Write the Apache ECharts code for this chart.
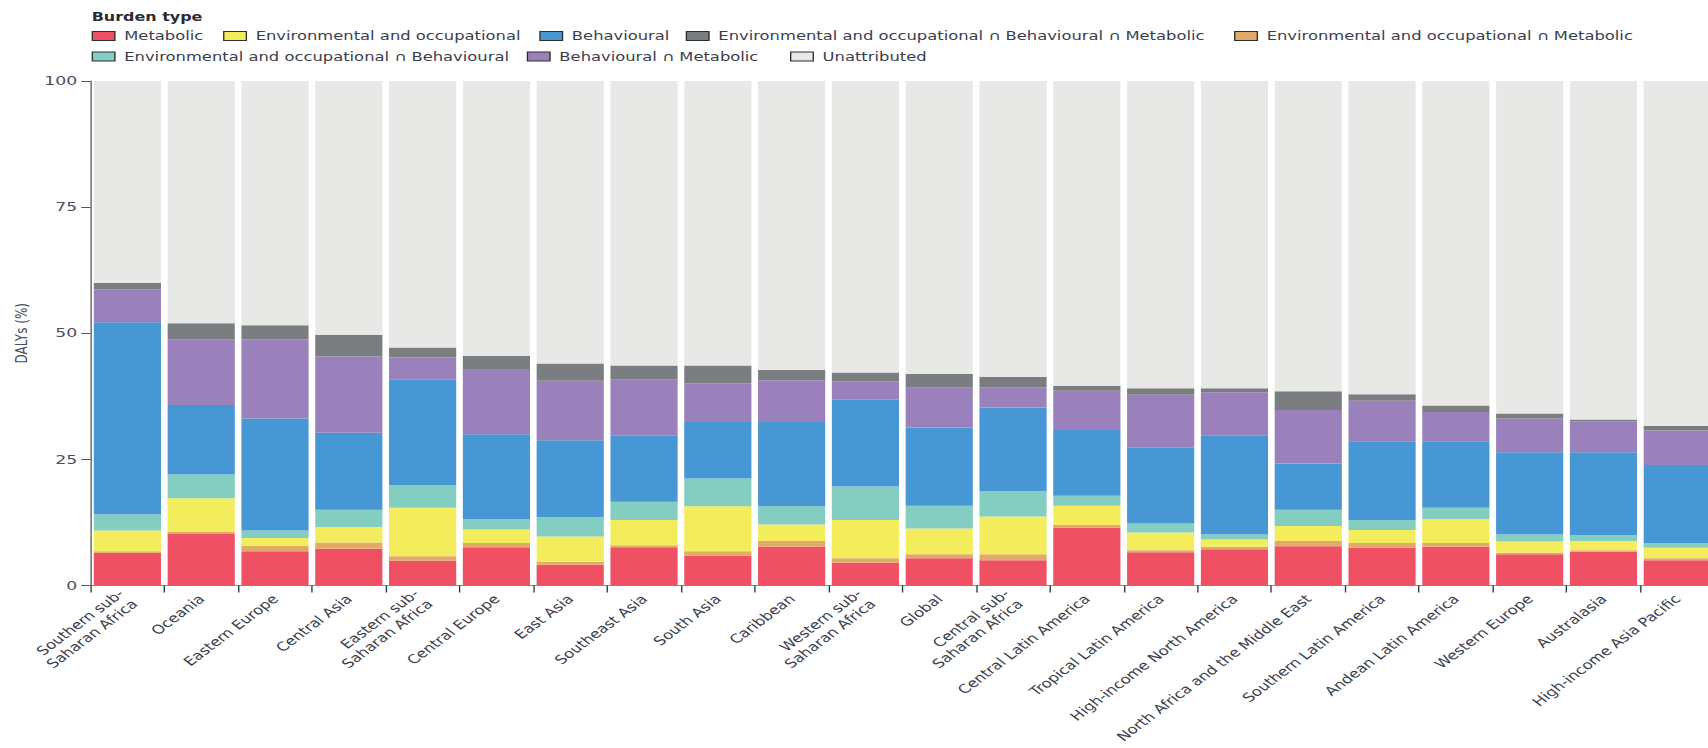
<!DOCTYPE html>
<html>
<head>
<meta charset="utf-8">
<title>DALYs by burden type and region</title>
<script src="https://cdn.jsdelivr.net/npm/echarts@6/dist/echarts.min.js"></script>
<style>
  html, body { margin: 0; padding: 0; background: #ffffff; overflow: hidden; }
  /* The figure is laid out on a narrower canvas and widened to fill the page */
  #chart {
    position: absolute; left: 0; top: 0;
    width: 1284px; height: 748px;
    transform: scaleX(1.33022); transform-origin: 0 0;
  }
</style>
</head>
<body>
<div id="chart"></div>
<script>
// Regions, ordered by total attributable burden
const regions = [
  'Southern sub-\nSaharan Africa', 'Oceania', 'Eastern Europe', 'Central Asia',
  'Eastern sub-\nSaharan Africa', 'Central Europe', 'East Asia', 'Southeast Asia',
  'South Asia', 'Caribbean', 'Western sub-\nSaharan Africa', 'Global',
  'Central sub-\nSaharan Africa', 'Central Latin America', 'Tropical Latin America',
  'High-income North America', 'North Africa and the Middle East',
  'Southern Latin America', 'Andean Latin America', 'Western Europe',
  'Australasia', 'High-income Asia Pacific'
];

// Share of DALYs (%) per burden type, one value per region
const metabolic = [6.5, 10.2, 6.8, 7.3, 4.9, 7.6, 4.1, 7.6, 5.9, 7.7, 4.5, 5.4, 5.0, 11.5, 6.6, 7.2, 7.8, 7.5, 7.7, 6.2, 6.7, 5.0];
const envMet = [0.3, 0.5, 1.1, 1.2, 0.9, 0.8, 0.6, 0.4, 0.9, 1.1, 0.9, 0.8, 1.2, 0.5, 0.4, 0.5, 1.0, 0.9, 0.7, 0.3, 0.3, 0.4];
const environmental = [4.1, 6.6, 1.5, 3.1, 9.6, 2.7, 5.0, 5.0, 8.9, 3.3, 7.6, 5.1, 7.5, 3.8, 3.5, 1.4, 3.0, 2.6, 4.8, 2.2, 1.8, 2.1];
const envBeh = [3.2, 4.7, 1.5, 3.4, 4.5, 2.1, 3.9, 3.6, 5.5, 3.6, 6.6, 4.5, 5.0, 2.0, 1.8, 1.0, 3.2, 2.0, 2.2, 1.4, 1.2, 0.9];
const behavioural = [38.1, 13.8, 22.2, 15.3, 21.0, 16.8, 15.2, 13.2, 11.2, 16.7, 17.2, 15.5, 16.6, 13.0, 15.0, 19.7, 9.2, 15.6, 13.2, 16.3, 16.4, 15.5];
const behMet = [6.5, 13.0, 15.7, 15.1, 4.3, 12.9, 11.8, 11.1, 7.7, 8.3, 3.7, 7.9, 4.0, 7.8, 10.5, 8.5, 10.6, 8.0, 5.8, 6.7, 6.1, 6.8];
const envBehMet = [1.3, 3.2, 2.8, 4.3, 2.0, 2.6, 3.4, 2.7, 3.5, 2.0, 1.7, 2.7, 2.1, 1.0, 1.3, 0.8, 3.7, 1.3, 1.3, 1.0, 0.4, 0.9];
const unattributed = [40.0, 48.0, 48.4, 50.3, 52.8, 54.5, 56.0, 56.4, 56.4, 57.3, 57.8, 58.1, 58.6, 60.4, 60.9, 60.9, 61.5, 62.1, 64.3, 65.9, 67.1, 68.4];

const yTicks = [0, 25, 50, 75, 100];

const NAME_M = 'Metabolic';
const NAME_E = 'Environmental and occupational';
const NAME_B = 'Behavioural';
const NAME_EBM = 'Environmental and occupational \u2229 Behavioural \u2229 Metabolic';
const NAME_EM = 'Environmental and occupational \u2229 Metabolic';
const NAME_EB = 'Environmental and occupational \u2229 Behavioural';
const NAME_BM = 'Behavioural \u2229 Metabolic';
const NAME_U = 'Unattributed';

const colors = {};
colors[NAME_M] = '#ef5063';
colors[NAME_EM] = '#e3a968';
colors[NAME_E] = '#f3ec5d';
colors[NAME_EB] = '#83cec0';
colors[NAME_B] = '#4697d3';
colors[NAME_BM] = '#9a81bb';
colors[NAME_EBM] = '#7b7e81';
colors[NAME_U] = '#e8e8e6';

// Stack order from the baseline upwards
const stack = [
  [NAME_M, metabolic],
  [NAME_EM, envMet],
  [NAME_E, environmental],
  [NAME_EB, envBeh],
  [NAME_B, behavioural],
  [NAME_BM, behMet],
  [NAME_EBM, envBehMet],
  [NAME_U, unattributed]
];

const FONT = 'DejaVu Sans';
const TEXT = '#3b3e4c';

const series = stack.map(([name, values]) => ({
  name: name,
  type: 'bar',
  stack: 'total',
  barCategoryGap: '9%',
  data: values,
  itemStyle: { color: colors[name] },
  emphasis: { disabled: true }
}));

// Legend entries placed in two rows under the "Burden type" heading
const legendSpots = [
  [NAME_M, 68.9, 30], [NAME_E, 167.7, 30], [NAME_B, 405.4, 30],
  [NAME_EBM, 515.5, 30], [NAME_EM, 927.7, 30],
  [NAME_EB, 68.9, 50.5], [NAME_BM, 396.0, 50.5], [NAME_U, 593.9, 50.5]
];
const legends = legendSpots.map(([name, left, top]) => ({
  data: [name],
  left: left,
  top: top,
  padding: 0,
  itemWidth: 17,
  itemHeight: 9,
  icon: 'rect',
  selectedMode: false,
  itemStyle: { borderColor: '#2e2e2e', borderWidth: 1 },
  textStyle: { fontFamily: FONT, fontSize: 12.3, color: TEXT, padding: [0, 0, 0, 2] }
}));

const chart = echarts.init(document.getElementById('chart'), null, { renderer: 'svg' });
chart.setOption({
  animation: false,
  backgroundColor: '#ffffff',
  title: {
    text: 'Burden type',
    left: 68.9,
    top: 11,
    padding: 0,
    textStyle: { fontFamily: FONT, fontSize: 12, fontWeight: 'bold', color: '#2a2c36' }
  },
  legend: legends,
  grid: {
    left: 68.04, top: 81, width: 1220.6, height: 504.5,
    containLabel: false,
    outerBoundsMode: 'none'
  },
  xAxis: {
    type: 'category',
    data: regions,
    axisLine: { lineStyle: { color: '#8a8a8a', width: 1 } },
    axisTick: { show: true, alignWithLabel: false, length: 7, lineStyle: { color: '#333333' } },
    axisLabel: {
      interval: 0,
      rotate: 45,
      margin: 11,
      fontFamily: FONT,
      fontSize: 12.4,
      lineHeight: 14.5,
      color: TEXT
    }
  },
  yAxis: {
    type: 'value',
    min: yTicks[0],
    max: yTicks[yTicks.length - 1],
    interval: 25,
    name: 'DALYs (%)',
    nameLocation: 'middle',
    nameGap: 44,
    nameTextStyle: { fontFamily: FONT, fontSize: 12, color: '#4a4d58' },
    axisLine: { show: true, lineStyle: { color: '#5a5a5a', width: 1 } },
    axisTick: { show: true, length: 7, lineStyle: { color: '#5a5a5a' } },
    axisLabel: { margin: 10, fontFamily: FONT, fontSize: 13, color: '#4a4e5c' },
    splitLine: { show: false }
  },
  series: series
});
</script>
</body>
</html>
